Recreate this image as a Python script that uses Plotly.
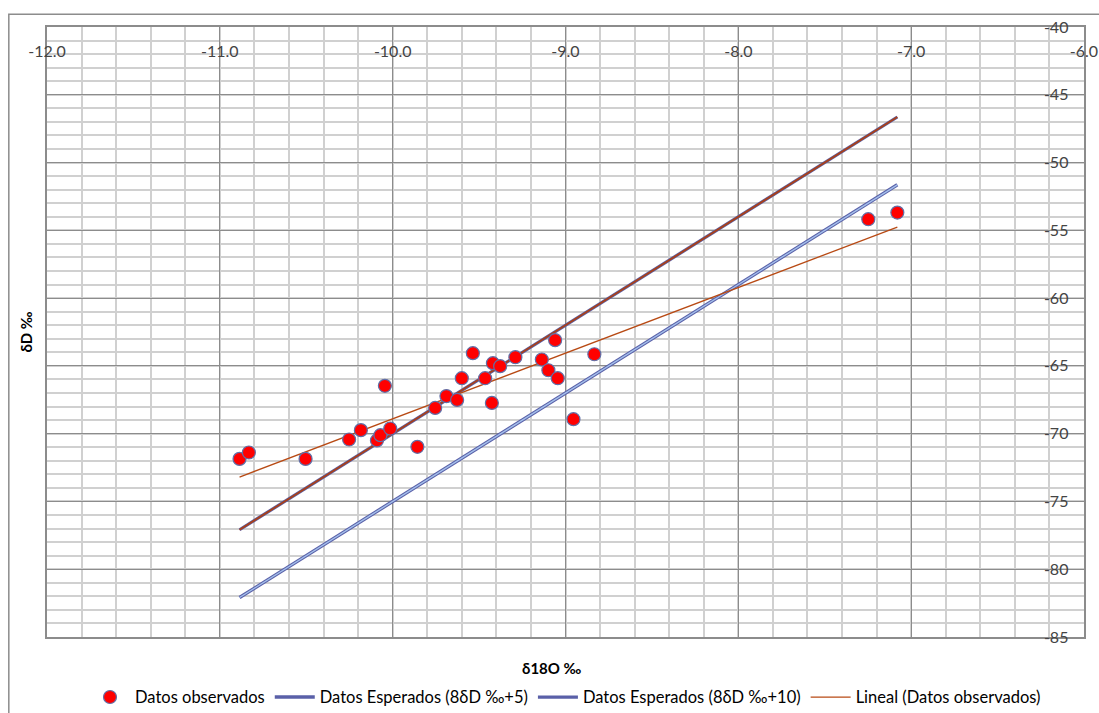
import numpy as np
import plotly.graph_objects as go

# Observed data (δ18O ‰, δD ‰)
d18o = [-10.886, -10.832, -10.504, -10.252, -10.184, -10.091, -10.071, -10.014,
        -10.045, -9.857, -9.754, -9.689, -9.627, -9.600, -9.536, -9.465,
        -9.420, -9.426, -9.378, -9.290, -9.137, -9.099, -9.060, -9.045,
        -8.954, -8.833, -7.248, -7.080]
dD = [-71.86, -71.39, -71.86, -70.43, -69.74, -70.50, -70.11, -69.62,
      -66.47, -70.97, -68.10, -67.23, -67.51, -65.91, -64.06, -65.91,
      -64.80, -67.73, -65.02, -64.36, -64.53, -65.32, -63.10, -65.91,
      -68.93, -64.14, -54.18, -53.69]

x_tickvals = [-12.0, -11.0, -10.0, -9.0, -8.0, -7.0, -6.0]
x_ticktext = ["-12.0", "-11.0", "-10.0", "-9.0", "-8.0", "-7.0", "-6.0"]
y_tickvals = [-85, -80, -75, -70, -65, -60, -55, -50, -45, -40]
y_ticktext = ["-85", "-80", "-75", "-70", "-65", "-60", "-55", "-50", "-45", "-40"]

names = ["Datos observados", "Datos Esperados (8δD ‰+5)",
         "Datos Esperados (8δD ‰+10)", "Lineal (Datos observados)"]

x_arr = np.array(d18o)
y_arr = np.array(dD)
x_line = np.array([x_arr.min(), x_arr.max()])
y_plus5 = 8 * x_line + 5
y_plus10 = 8 * x_line + 10
slope, intercept = np.polyfit(x_arr, y_arr, 1)
y_trend = slope * x_line + intercept

FONT = "Lato"
fig = go.Figure()

# Expected line +5 (lower): outer dark blue + inner light blue
fig.add_trace(go.Scatter(x=x_line, y=y_plus5, mode="lines", name=names[1],
                         line=dict(color="#5A60A8", width=3.5), legendrank=2))
fig.add_trace(go.Scatter(x=x_line, y=y_plus5, mode="lines", showlegend=False,
                         hoverinfo="skip", line=dict(color="#A4C0EC", width=1.4)))
# Expected line +10 (upper): outer blue-purple + inner brown-red
fig.add_trace(go.Scatter(x=x_line, y=y_plus10, mode="lines", name=names[2],
                         line=dict(color="#5A60A8", width=3.2), legendrank=3))
fig.add_trace(go.Scatter(x=x_line, y=y_plus10, mode="lines", showlegend=False,
                         hoverinfo="skip", line=dict(color="#A8401A", width=1.8)))
# Linear trend
fig.add_trace(go.Scatter(x=x_line, y=y_trend, mode="lines", name=names[3],
                         line=dict(color="#B84A14", width=1.3), legendrank=4))
# Observed points
fig.add_trace(go.Scatter(x=d18o, y=dD, mode="markers", name=names[0],
                         marker=dict(color="#FF0000", size=13,
                                     line=dict(color="#6070A8", width=1.2)),
                         legendrank=1))

# Body margin is removed by the post script, so figure coords = screen coords
W, H = 1099, 713
L, R, T, B = 46.7, 1084.0, 26.7, 636.7

def px(xs):
    return (xs - L) / (R - L)

def py(ys):
    return (B - ys) / (B - T)

fig.add_shape(type="rect", xref="paper", yref="paper",
              x0=px(8.5), x1=px(1130), y0=py(740), y1=py(14),
              line=dict(color="#8C8C8C", width=1.5), fillcolor="rgba(0,0,0,0)",
              layer="below")

fig.add_annotation(text="<b>δD ‰</b>", xref="paper", yref="paper",
                   x=px(26), y=py(332), xanchor="center", yanchor="middle",
                   showarrow=False, textangle=-90,
                   font=dict(family=FONT, size=15, color="#000000"))
fig.add_annotation(text="<b>δ18O ‰</b>", xref="paper", yref="paper",
                   x=px(552), y=py(668), xanchor="center", yanchor="middle",
                   showarrow=False,
                   font=dict(family=FONT, size=15, color="#000000"))

fig.update_layout(
    width=W, height=H,
    margin=dict(l=L, r=W - R, t=T, b=H - B, autoexpand=False),
    paper_bgcolor="white", plot_bgcolor="white",
    font=dict(family=FONT, size=16, color="#000000"),
    showlegend=True,
    legend=dict(orientation="h", x=0.5, xanchor="center", y=py(697), yanchor="middle",
                font=dict(family=FONT, size=16.5), itemwidth=40, traceorder="normal"),
    xaxis=dict(range=[-12, -6], side="top", tickmode="array", tickvals=x_tickvals,
               ticktext=x_ticktext, ticklabelposition="inside", ticklabeloverflow="allow",
               ticklabelstandoff=19, ticks="", automargin=False,
               showgrid=True, gridcolor="#8C8C8C", gridwidth=1.2,
               minor=dict(tickmode="linear", tick0=-12, dtick=0.2, showgrid=True,
                          gridcolor="#D0D0D0", gridwidth=1.5),
               showline=True, linecolor="#8C8C8C", linewidth=1.5, mirror=True,
               zeroline=False),
    yaxis=dict(range=[-85, -40], side="right", tickmode="array", tickvals=y_tickvals,
               ticktext=y_ticktext, ticklabelposition="inside", ticklabeloverflow="allow",
               ticklabelstandoff=16, ticks="", automargin=False,
               showgrid=True, gridcolor="#8C8C8C", gridwidth=1.2,
               minor=dict(tickmode="linear", tick0=-85, dtick=1, showgrid=True,
                          gridcolor="#D0D0D0", gridwidth=1.5),
               showline=True, linecolor="#8C8C8C", linewidth=1.5, mirror=True,
               zeroline=False),
)

fig.write_html(
    "out.html",
    config={"displayModeBar": False},
    post_script=("document.documentElement.style.overflow='hidden';"
                 "document.body.style.margin='0';"
                 "document.body.style.overflow='hidden';"),
)
